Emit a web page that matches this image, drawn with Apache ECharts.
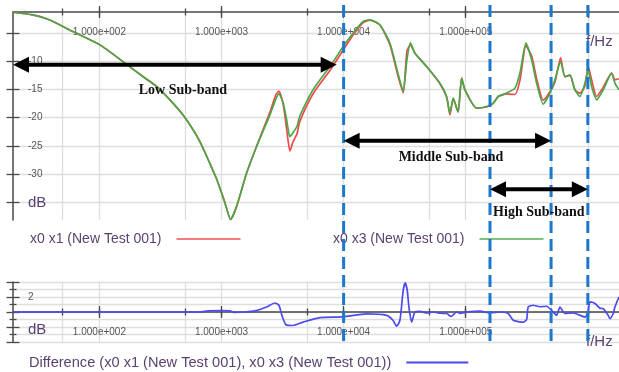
<!DOCTYPE html>
<html>
<head>
<meta charset="utf-8">
<script src="https://cdn.jsdelivr.net/npm/echarts@6/dist/echarts.min.js"></script>
<style>
  html, body { margin: 0; padding: 0; background: #fff; }
  #chart { width: 619px; height: 372px; }
</style>
</head>
<body>
<div id="chart"></div>
<script>
// Sample frequencies (Hz) shared by both transfer-function traces
const freqs = [19.6, 28.5, 39.3, 60.7, 101, 162, 227, 296, 378, 483, 606, 704, 804, 917, 1066, 1187, 1330,
  1605, 1939, 2491, 2790, 2952, 3201, 3414, 3633, 3844, 4145, 4387, 5605, 7724, 9870, 11920, 14390,
  16430, 19830, 23940, 27850, 30770, 32990, 35250, 38370, 47840, 61490, 69760, 74240, 79010, 84260,
  86840, 92560, 98500, 122800, 148300, 168000, 184600, 216300, 252900, 277900, 311200, 346600,
  380800, 431200, 489400, 537700, 598800, 649400, 713600, 784300, 861600, 946900, 1007600, 1074300,
  1180600, 1337200, 1565900, 1666800, 1797700];

// Magnitude (dB) of x0 x1 (New Test 001)
const x0x1 = [-1.34, -1.82, -2.70, -4.77, -7.12, -10.35, -12.72, -14.49, -16.84, -19.49, -22.67, -25.32,
  -28.14, -30.97, -35.04, -38.0, -35.69, -29.79, -25.0, -19.0, -15.9, -15.3, -17.7, -22.0, -25.9,
  -24.3, -22.9, -20.6, -15.8, -11.65, -8.1, -5.4, -3.2, -2.75, -3.6, -7.1, -12.6, -15.6, -8.2, -7.1,
  -8.6, -10.95, -14.0, -16.4, -19.5, -16.6, -18.3, -19.0, -13.0, -15.07, -18.3, -18.1, -17.45,
  -16.25, -15.8, -15.9, -13.4, -7.3, -9.1, -13.1, -16.9, -15.4, -13.7, -9.4, -12.8, -12.5, -15.1,
  -15.65, -14.4, -10.95, -13.3, -16.25, -14.6, -12.1, -13.3, -13.1];

// Magnitude (dB) of x0 x3 (New Test 001)
const x0x3 = [-1.34, -1.82, -2.70, -4.77, -7.12, -10.35, -12.72, -14.49, -16.84, -19.49, -22.67, -25.32,
  -28.14, -30.97, -35.04, -38.0, -35.69, -29.79, -25.09, -19.49, -16.66, -15.78, -17.42, -20.37,
  -23.37, -22.67, -21.55, -19.66, -15.07, -10.95, -7.47, -5.05, -3.0, -2.70, -3.59, -6.82, -12.12,
  -15.37, -9.77, -6.77, -8.59, -10.95, -13.89, -16.25, -19.19, -16.54, -18.30, -18.90, -13.00,
  -15.07, -18.30, -18.02, -17.42, -16.25, -15.65, -14.77, -12.12, -6.82, -9.77, -13.89, -17.6,
  -15.65, -13.30, -10.07, -12.72, -12.42, -15.07, -16.25, -13.89, -11.54, -14.49, -16.84, -15.07,
  -12.12, -13.89, -15.07];

// Difference trace (dB)
const diffFreqs = [19.6, 665, 774, 1008, 1172, 1264, 1554, 1877, 2341, 2737, 2952, 3124, 3370, 3844,
  4642, 6394, 9813, 15430, 22500, 25340, 27180, 28920, 30770, 31960, 33190, 34250, 36060, 38370,
  42150, 47840, 54190, 61490, 69760, 75660, 84260, 89650, 101700, 130700, 157800, 190600, 222900,
  244900, 295700, 315400, 325000, 357200, 405200, 459800, 505200, 555300, 590800, 649400, 759400,
  946900, 1001800, 1040400, 1143700, 1256700, 1337200, 1469400, 1517300, 1614500, 1666800, 1797700];
const diffDb = [0, 0, 0.15, 0.2, 0.15, -0.05, 0, 0.15, 0.67, 1.2, 0.9, -0.45, -1.7, -1.8, -1.35,
  -0.75, -0.65, -0.25, -0.45, -1.1, -1.9, -1.1, 2.9, 3.9, 2.9, 0.67, -1.35, 0, 0.1, -0.13, 0,
  -0.17, -0.2, -0.6, 0, -0.17, 0, 0.13, -0.13, 0, -0.2, -1.1, -1.35, -1.0, 0.67, 0.9, 0.7, 0.77,
  0.23, -0.45, 0.67, -0.2, -0.13, -0.67, -0.04, 1.34, 1.13, 0.5, 0.45, -0.45, -0.9, -0.2, 0.67, 2.0];

// Axis ticks
const majorFreqs = [100, 1000, 10000, 100000, 1000000];
const gridFreqs = [50, 100, 500, 1000, 5000, 10000, 50000, 100000, 500000, 1000000];
const dbTicks = [-35, -30, -25, -20, -15, -10, -5];
const dbLabelVals = [-35, -30, -25, -20, -15, -10];
const diffTicksMajor = [-4, -2, 0, 2, 4];
const diffTicksMinor = [-3, -1, 1, 3];
const diffLabelVals = [-2, 2];

// Sub-band annotations
const markerFreqs = [10000, 158000, 500000, 1000000];
const bandNames = ['Low Sub-band', 'Middle Sub-band', 'High Sub-band'];
const bandFrom = [19.6, 10000, 158000];
const bandTo = [8770, 500000, 1000000];
const bandArrowDb = [-10.65, -24.1, -32.65];
const bandLabelFreq = [483, 75700, 397000];
const bandLabelDb = [-15.2, -27.1, -36.7];

const F_MIN = 19.6, F_MAX = 1.8e6;
const FONT = '"Liberation Sans", Arial, sans-serif';
const TXT = '#5a4270';
const LBL = '#555';
const AXIS = '#4a4a4a';
const GRID = '#dedede';
const RED = '#f04848', GREEN = '#48a848', BLUE = '#4b4bf0';

function freqLabel(v) {
  if (v > 7e5) return '{u|f/Hz}';
  const parts = Number(v).toExponential(3).split('e');
  const sign = parts[1][0] === '-' ? '-' : '+';
  return parts[0] + 'e' + sign + parts[1].replace(/^[+-]/, '').padStart(3, '0');
}
const unitRich = { u: { fontSize: 15, color: TXT, fontFamily: FONT, padding: [7, 0, 0, 23] } };
const tickLine = { color: AXIS, width: 1.3 };

function logAxis(gridIndex, position, extra) {
  return Object.assign({
    type: 'log', logBase: 10, gridIndex, position, min: F_MIN, max: F_MAX,
    axisLine: { show: false, onZero: false },
    axisLabel: { show: false },
    axisTick: { show: false },
    splitLine: { show: false }
  }, extra);
}

// Frequency axis drawn as line + crossing major/minor ticks + labels
function freqAxisSet(gridIndex, position, labelInside, withGrid) {
  return [
    logAxis(gridIndex, position, {
      axisLine: { show: true, onZero: false, lineStyle: { color: AXIS, width: 1.5 } },
      axisTick: { show: true, customValues: majorFreqs, inside: true, length: 6, lineStyle: tickLine },
      axisLabel: { show: true, customValues: majorFreqs, inside: labelInside, margin: 15,
        formatter: freqLabel, color: LBL, fontSize: 10, fontFamily: FONT, rich: unitRich }
    }),
    logAxis(gridIndex, position, { axisTick: { show: true, customValues: majorFreqs, inside: false, length: 6, lineStyle: tickLine } }),
    logAxis(gridIndex, position, {
      axisTick: { show: true, customValues: gridFreqs, inside: true, length: 3.5, lineStyle: tickLine },
      splitLine: { show: withGrid, lineStyle: { color: GRID, width: 1.3 } }
    }),
    logAxis(gridIndex, position, { axisTick: { show: true, customValues: gridFreqs, inside: false, length: 3.5, lineStyle: tickLine } })
  ];
}

function valueAxes(gridIndex, min, max, groups) {
  return groups.map((g, i) => ({
    type: 'value', gridIndex, position: 'left', min, max,
    axisLine: { show: i === 0, onZero: false, lineStyle: { color: AXIS, width: 1.5 } },
    axisTick: { show: true, customValues: g.ticks, inside: g.inside, length: g.len,
      lineStyle: { color: AXIS, width: 1.3 } },
    axisLabel: g.labels ? {
      show: true, customValues: g.labels, inside: true, margin: 15,
      formatter: g.formatter, color: LBL, fontSize: 10, fontFamily: FONT,
      rich: {
        u: { fontSize: 15, color: TXT, fontFamily: FONT },
        d: { fontSize: 15, color: TXT, fontFamily: FONT, padding: [5, 0, 0, 0] }
      }
    } : { show: false },
    splitLine: { show: !!g.split, lineStyle: { color: GRID, width: 1.3 } }
  }));
}

const topY = valueAxes(0, -38.1, -1.3, [
  { ticks: dbTicks, inside: true, len: 6.5, labels: dbLabelVals, split: true,
    formatter: v => (v === -35 ? '{u|dB}' : String(v)) },
  { ticks: dbTicks, inside: false, len: 6.5 }
]);
const botY = valueAxes(1, -4, 4, [
  { ticks: diffTicksMajor, inside: true, len: 6.5, labels: diffLabelVals, split: true,
    formatter: v => (v === -2 ? '{d|dB}' : String(v)) },
  { ticks: diffTicksMajor, inside: false, len: 6.5 },
  { ticks: diffTicksMinor, inside: true, len: 3.5, split: true },
  { ticks: diffTicksMinor, inside: false, len: 3.5 }
]);
// Helper y axis for the strip that carries the difference plot's 0 dB frequency axis
const stripY = { type: 'value', gridIndex: 2, min: 0, max: 1, show: false };

// Difference plot: series axis (vertical grid only) + frequency axis running along 0 dB
const diffSeriesX = logAxis(1, 'bottom', {
  axisTick: { show: false, customValues: gridFreqs },
  splitLine: { show: true, lineStyle: { color: GRID, width: 1.3 } }
});

const pairs = (xs, ys) => xs.map((x, i) => [x, ys[i]]);
const legendText = { color: TXT, fontSize: 14, fontFamily: FONT, padding: [0, 10, 0, 0] };
const legendBase = { align: 'right', icon: 'rect', itemHeight: 2, padding: 0 };

const chart = echarts.init(document.getElementById('chart'));
chart.setOption({
  backgroundColor: '#fff',
  animation: false,
  grid: [
    { left: 13, top: 12, right: 0, height: 208 },
    { left: 13, top: 282, right: 0, height: 60 },
    { left: 13, top: 282, right: 0, height: 30 }
  ],
  xAxis: freqAxisSet(0, 'top', true, true).concat([diffSeriesX], freqAxisSet(2, 'bottom', false, false)),
  yAxis: topY.concat(botY, [stripY]),
  legend: [
    Object.assign({ data: [{ name: 'x0 x1 (New Test 001)', itemStyle: { color: '#f47c7c' } }], left: 30, top: 232,
      itemWidth: 64, textStyle: legendText }, legendBase),
    Object.assign({ data: [{ name: 'x0 x3 (New Test 001)', itemStyle: { color: '#7cc47c' } }], left: 333, top: 232,
      itemWidth: 64, textStyle: legendText }, legendBase),
    Object.assign({ data: [{ name: 'Difference (x0 x1 (New Test 001), x0 x3 (New Test 001))', itemStyle: { color: BLUE } }],
      left: 29, top: 355, itemWidth: 62, textStyle: Object.assign({}, legendText, { fontSize: 14.6 }) }, legendBase)
  ],
  series: [
    { name: 'x0 x1 (New Test 001)', type: 'line', xAxisIndex: 0, yAxisIndex: 0, data: pairs(freqs, x0x1),
      showSymbol: false, smooth: 0.2, itemStyle: { color: RED }, lineStyle: { color: RED, width: 1.7 } },
    { name: 'x0 x3 (New Test 001)', type: 'line', xAxisIndex: 0, yAxisIndex: 0, data: pairs(freqs, x0x3),
      showSymbol: false, smooth: 0.2, itemStyle: { color: GREEN }, lineStyle: { color: GREEN, width: 1.7 } },
    { name: 'Difference (x0 x1 (New Test 001), x0 x3 (New Test 001))', type: 'line', xAxisIndex: 4, yAxisIndex: 2,
      data: pairs(diffFreqs, diffDb), showSymbol: false, smooth: 0.2, z: 5,
      itemStyle: { color: BLUE }, lineStyle: { color: BLUE, width: 1.7 } }
  ]
});

// Sub-band markers and arrows, positioned through the axes' own scales
const gx = f => chart.convertToPixel({ xAxisIndex: 0 }, f);
const gy = v => chart.convertToPixel({ yAxisIndex: 0 }, v);
const lineTop = 5, lineBottom = 347;
const graphics = [];
markerFreqs.forEach(f => {
  const x = gx(f);
  graphics.push({ type: 'line', z: 100, shape: { x1: x, y1: lineTop, x2: x, y2: lineBottom },
    style: { stroke: '#1c78cc', lineWidth: 3, lineDash: [12, 6] } });
});
function arrow(x1, x2, y) {
  const H = 16, W = 8;
  return [
    { type: 'line', z: 101, shape: { x1: x1 + H - 2, y1: y, x2: x2 - H + 2, y2: y },
      style: { stroke: '#000', lineWidth: 4 } },
    { type: 'polygon', z: 101, shape: { points: [[x1, y], [x1 + H, y - W], [x1 + H, y + W]] }, style: { fill: '#000' } },
    { type: 'polygon', z: 101, shape: { points: [[x2, y], [x2 - H, y - W], [x2 - H, y + W]] }, style: { fill: '#000' } }
  ];
}
bandNames.forEach((name, i) => {
  const y = gy(bandArrowDb[i]);
  graphics.push(...arrow(gx(bandFrom[i]), gx(bandTo[i]), y));
  graphics.push({ type: 'text', z: 102, x: gx(bandLabelFreq[i]), y: gy(bandLabelDb[i]),
    style: { text: name, fill: '#111', fontSize: 14, fontWeight: 'bold',
      fontFamily: '"Liberation Serif", "Times New Roman", serif', align: 'center', verticalAlign: 'middle' } });
});
chart.setOption({ graphic: graphics });
</script>
</body>
</html>
